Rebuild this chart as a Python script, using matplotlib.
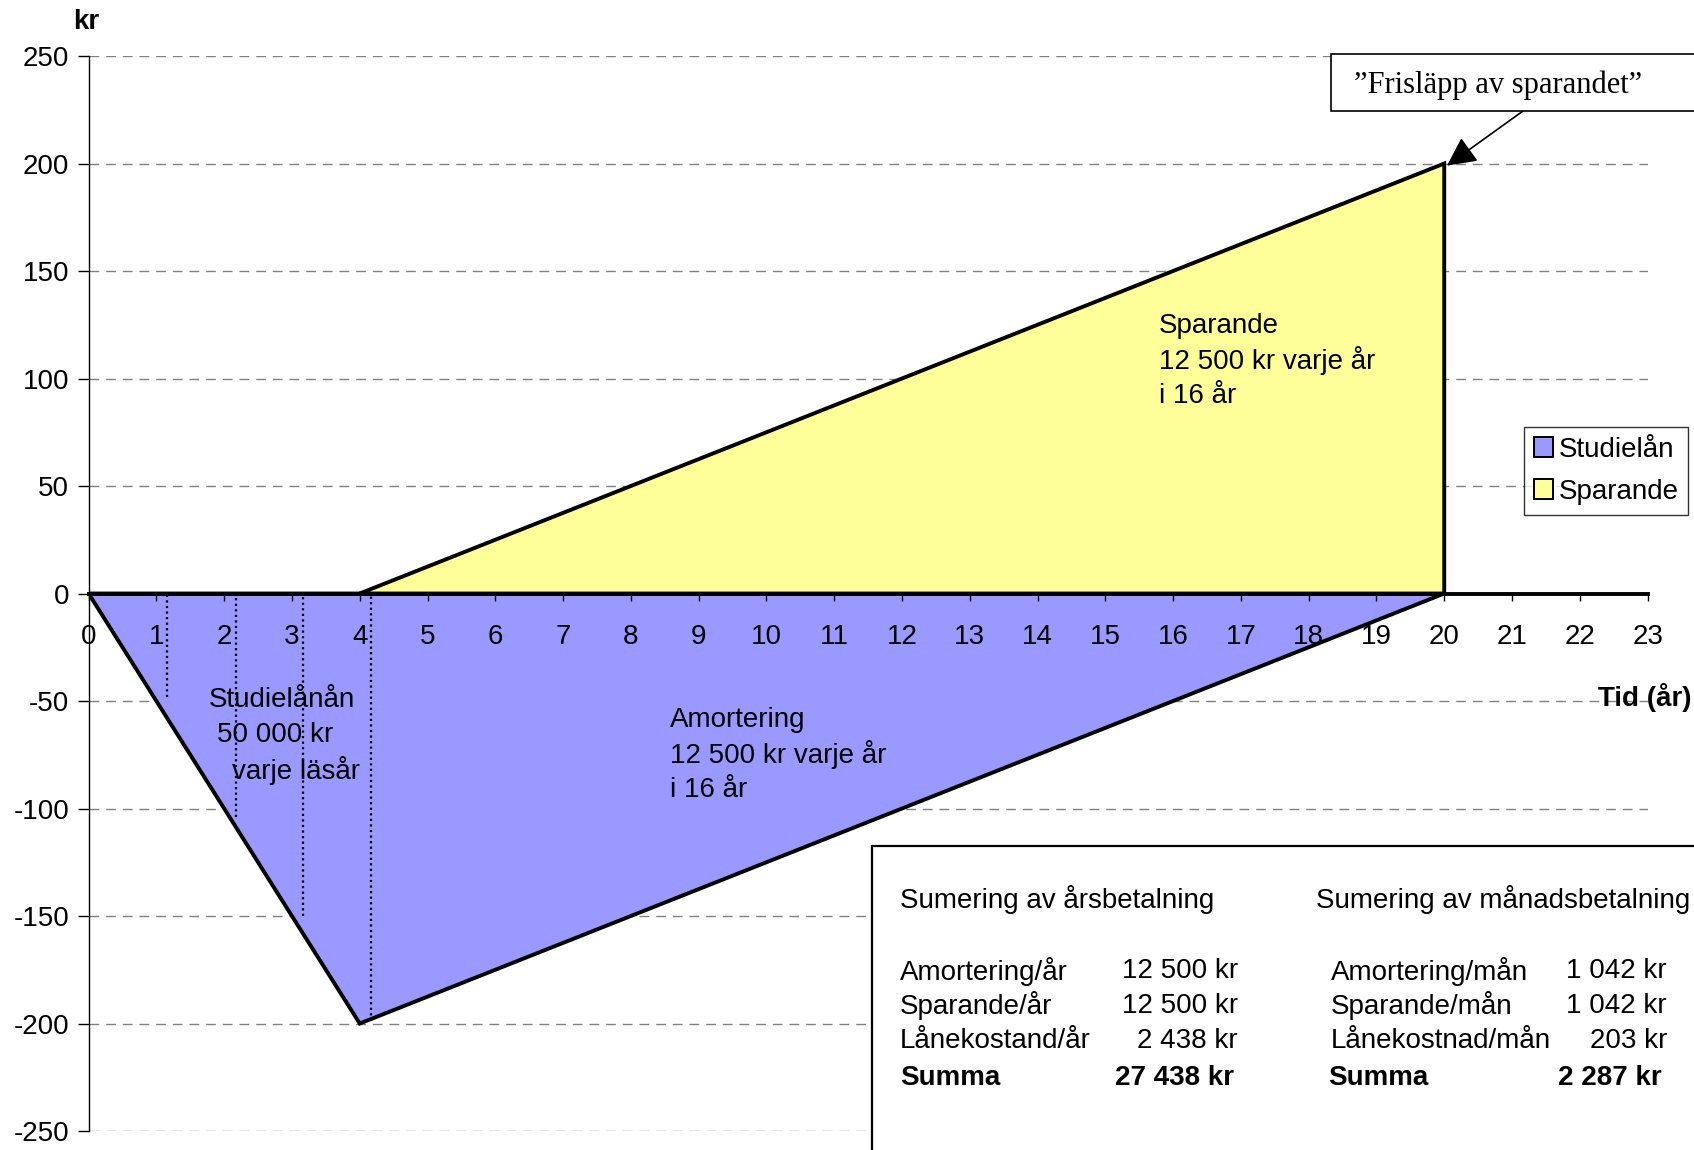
import matplotlib
matplotlib.use("Agg")
import matplotlib.pyplot as plt
from matplotlib.patches import Rectangle, Patch

# ---- data ----
x_ticks = list(range(0, 24))
y_ticks = [-250, -200, -150, -100, -50, 0, 50, 100, 150, 200, 250]

loan_x = [0, 4, 20]
loan_y = [0, -200, 0]
save_x = [4, 20, 20]
save_y = [0, 200, 0]

mark_x = [1.16, 2.18, 3.16, 4.16]
mark_bottom = [-48, -104, -150, -199]

year_header = "Sumering av årsbetalning"
month_header = "Sumering av månadsbetalning"
year_labels = ["Amortering/år", "Sparande/år", "Lånekostand/år", "Summa"]
year_values = ["12 500 kr", "12 500 kr", "2 438 kr", "27 438 kr"]
month_labels = ["Amortering/mån", "Sparande/mån", "Lånekostnad/mån", "Summa"]
month_values = ["1 042 kr", "1 042 kr", "203 kr", "2 287 kr"]

loan_text = ["Studielånån", "50 000 kr", "varje läsår"]
amort_text = ["Amortering", "12 500 kr varje år", "i 16 år"]
save_text = ["Sparande", "12 500 kr varje år", "i 16 år"]

BLUE = "#9999FF"
YELLOW = "#FFFF99"
FS = 20

plt.rcParams['font.family'] = ['Liberation Sans', 'DejaVu Sans']
plt.rcParams['axes.unicode_minus'] = False

W, H = 1694, 1150
fig = plt.figure(figsize=(W / 100, H / 100), dpi=100)


def fx(px):
    return px / W


def fy(py):
    return 1 - py / H


ax = fig.add_axes([0.0523, 0.0165, 0.9203, 0.9348])
ax.set_xlim(0, 23)
ax.set_ylim(-250, 250)

# manual grid, beneath the fills
for yv in y_ticks:
    if yv != 0:
        ax.axhline(yv, linestyle=(0, (7, 5)), color='#808080', lw=1, zorder=0.5)

ax.fill(loan_x, loan_y, facecolor=BLUE, edgecolor='black', lw=2.8, zorder=2)
ax.fill(save_x, save_y, facecolor=YELLOW, edgecolor='black', lw=2.8, zorder=2)
ax.vlines(mark_x, mark_bottom, 0, colors='black', linestyles=(0, (1, 1.5)), lw=1.6, zorder=3)

ax.set_yticks(y_ticks)
ax.set_xticks(x_ticks)
ax.set_xticklabels([str(v) for v in x_ticks])
ax.set_axisbelow(False)
ax.xaxis.set_zorder(6)
ax.yaxis.set_zorder(6)
for s in ['top', 'right']:
    ax.spines[s].set_visible(False)
ax.spines['bottom'].set_position(('data', 0))
ax.spines['bottom'].set_linewidth(2.8)
ax.spines['bottom'].set_zorder(4)
ax.spines['left'].set_linewidth(1)
ax.tick_params(axis='y', direction='out', length=8, width=1, labelsize=FS, pad=6)
ax.tick_params(axis='x', direction='out', length=5, width=1, labelsize=FS, pad=17)

# in-plot labels
for i, (t, xo) in enumerate(zip(loan_text, [1.77, 1.90, 2.12])):
    ax.text(xo, -49.7 - 16.3 * i, t, fontsize=FS, va='center', ha='left', zorder=7)
for i, t in enumerate(amort_text):
    ax.text(8.575, -58.7 - 16.3 * i, t, fontsize=FS, va='center', ha='left', zorder=7)
for i, t in enumerate(save_text):
    ax.text(15.795, 124.5 - 16.3 * i, t, fontsize=FS, va='center', ha='left', zorder=7)

# axis titles
fig.text(fx(86), fy(22), "kr", fontsize=FS, fontweight='bold', ha='center', va='center')
fig.text(fx(1691), fy(698), "Tid (år)", fontsize=FS, fontweight='bold', ha='right', va='center')

# legend
handles = [Patch(facecolor=BLUE, edgecolor='black', lw=1.4),
           Patch(facecolor=YELLOW, edgecolor='black', lw=1.4)]
leg = fig.legend(handles, ["Studielån", "Sparande"], loc='upper left',
                 bbox_to_anchor=(fx(1524), fy(427)), bbox_transform=fig.transFigure,
                 fontsize=FS, frameon=True, fancybox=False, shadow=False,
                 handlelength=0.7, handleheight=0.7, handletextpad=0.2,
                 labelspacing=0.58, borderpad=0.35, borderaxespad=0)
leg.get_frame().set_edgecolor('black')
leg.get_frame().set_linewidth(1)
leg.set_zorder(6)

# callout box
fig.add_artist(Rectangle((fx(1331), fy(111)), 0.5, fy(54) - fy(111), transform=fig.transFigure,
                         facecolor='white', edgecolor='black', lw=1.2, zorder=5))
fig.text(fx(1354), fy(85), "\u201dFrisläpp av sparandet\u201d", fontsize=22,
         family=['Liberation Serif', 'DejaVu Serif'], ha='left', va='center', zorder=6)
ax.annotate('', xy=(20.04, 199), xycoords='data',
            xytext=(fx(1523), fy(111)), textcoords='figure fraction',
            arrowprops=dict(arrowstyle='-|>,head_length=0.6,head_width=0.3', color='black',
                            lw=1.2, mutation_scale=30, shrinkA=0, shrinkB=0),
            annotation_clip=False, zorder=6)

# summary box
fig.add_artist(Rectangle((fx(872), -0.2), 0.6, fy(846) + 0.2, transform=fig.transFigure,
                         facecolor='white', edgecolor='black', lw=1.6, zorder=5))
fig.text(fx(900), fy(900), year_header, fontsize=FS, ha='left', va='center', zorder=6)
fig.text(fx(1316), fy(900), month_header, fontsize=FS, ha='left', va='center', zorder=6)
row_y = [971, 1006, 1041, 1078]
for i in range(4):
    bold = 'bold' if i == 3 else 'normal'
    fig.text(fx(900), fy(row_y[i]), year_labels[i], fontsize=FS, fontweight=bold,
             ha='left', va='center', zorder=6)
    fig.text(fx(1238 if i < 3 else 1234), fy(row_y[i]), year_values[i], fontsize=FS,
             fontweight=bold, ha='right', va='center', zorder=6)
    fig.text(fx(1331 if i < 3 else 1328), fy(row_y[i]), month_labels[i], fontsize=FS,
             fontweight=bold, ha='left', va='center', zorder=6)
    fig.text(fx(1667 if i < 3 else 1662), fy(row_y[i]), month_values[i], fontsize=FS,
             fontweight=bold, ha='right', va='center', zorder=6)

fig.savefig("out.png", dpi=100)
